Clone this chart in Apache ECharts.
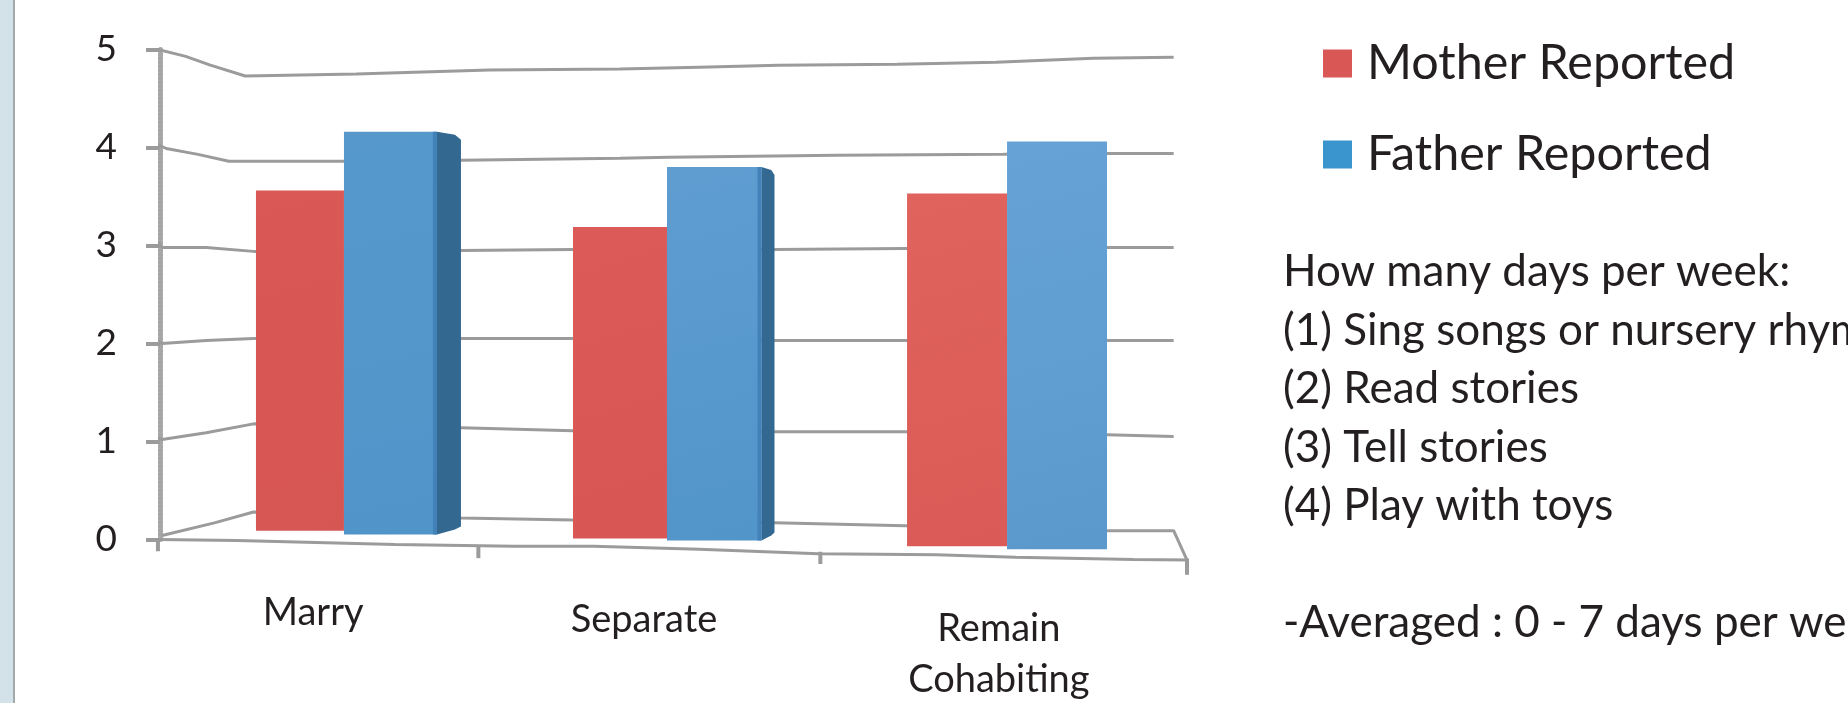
<!DOCTYPE html>
<html>
<head>
<meta charset="utf-8">
<title>Days per week</title>
<style>
  html, body { margin: 0; padding: 0; background: #fff; overflow: hidden; }
  #chart { width: 1848px; height: 703px; }
</style>
<script src="https://cdn.jsdelivr.net/npm/echarts@6/dist/echarts.min.js"></script>
</head>
<body>
<div id="chart"></div>
<script>
const categories = ['Marry', 'Separate', 'Remain\nCohabiting']
const yTicks = [0, 1, 2, 3, 4, 5]
const motherValues = [3.56, 3.19, 3.53]
const fatherValues = [4.16, 3.80, 4.06]
// the bars do not sit on a flat floor in the picture, this is where each one stops
const motherBase = [0.09, 0.01, -0.07]
const fatherBase = [0.05, -0.01, -0.10]

const seriesNames = ['Mother Reported', 'Father Reported']
const noteLines = [
  'How many days per week:',
  '(1) Sing songs or nursery rhymes',
  '(2) Read stories',
  '(3) Tell stories',
  '(4) Play with toys',
  '',
  '-Averaged : 0 - 7 days per week'
]

// warped gridlines: x is percent of the floor width, y is the value
const line5 = [[-0.2, 5.00], [2.5, 4.93], [4.9, 4.84], [8.3, 4.73], [19.1, 4.75], [32.1, 4.79], [44.8, 4.80], [52.5, 4.82], [60.2, 4.84], [71.8, 4.85], [81.4, 4.87], [90.9, 4.91], [98.7, 4.92]]
const line4 = [[-0.2, 4.03], [0.6, 3.99], [3.7, 3.93], [6.7, 3.86], [17.9, 3.86], [29.3, 3.87], [44.8, 3.89], [49.5, 3.90], [65.9, 3.92], [82.1, 3.93], [92.2, 3.94], [98.7, 3.94]]
const line3 = [[-0.2, 3.04], [0.2, 2.98], [4.5, 2.98], [9.1, 2.94], [29.3, 2.95], [40.2, 2.96], [59.8, 2.96], [72.5, 2.97], [92.2, 2.98], [98.7, 2.98]]
const line2 = [[-0.2, 2.03], [0.2, 2.00], [4.5, 2.03], [9.1, 2.05], [29.3, 2.05], [40.2, 2.05], [59.8, 2.03], [72.5, 2.03], [92.2, 2.03], [98.7, 2.03]]
const line1 = [[-0.2, 1.04], [0.2, 1.02], [4.5, 1.09], [9.1, 1.18], [29.3, 1.14], [40.2, 1.11], [59.8, 1.10], [72.5, 1.10], [92.2, 1.07], [98.7, 1.05]]
const floorBack = [[0.2, 0.04], [5.3, 0.17], [9.1, 0.28], [29.3, 0.22], [40.2, 0.20], [59.8, 0.17], [72.5, 0.14], [92.2, 0.09], [98.7, 0.09], [100, -0.21]]
const floorFront = [[-1.4, 0], [-0.2, 0], [7.5, -0.01], [22.9, -0.05], [34.5, -0.07], [42.2, -0.07], [52.5, -0.10], [64.1, -0.146], [75.6, -0.155], [83.3, -0.18], [94.8, -0.205], [100.5, -0.21]]
const floorTicks = [[-0.2, -0.01, -0.12], [31, -0.07, -0.19], [64.3, -0.125, -0.25], [100, -0.21, -0.36]]

// layout of the bars, px around each category centre
const barShift = [12.8, -6.5, -8.8]
const motherWidth = [88, 94, 100]
const fatherWidth = [93, 94.5, 100]
const sideDepth = [24, 13, 0]

const gridColor = '#9b9b9b'
const textColor = '#231f20'
const fontName = 'Lato, "Open Sans", sans-serif'

function fade(top, bottom) {
  return new echarts.graphic.LinearGradient(0, 0, 1, 1, [
    { offset: 0, color: top },
    { offset: 1, color: bottom }
  ])
}
const motherFill = [fade('#da5856', '#d65654'), fade('#dc5b58', '#d85755'), fade('#e1635e', '#d95a56')]
const fatherFill = [fade('#5698cc', '#5095c9'), fade('#5f9dd1', '#5295c9'), fade('#66a2d5', '#5b99cd')]

function renderMother(params, api) {
  const i = params.dataIndex
  const top = api.coord([i, api.value(1)])
  const base = api.coord([i, motherBase[i]])
  const right = top[0] + barShift[i]
  return {
    type: 'rect',
    shape: { x: right - motherWidth[i], y: top[1], width: motherWidth[i], height: base[1] - top[1] },
    style: { fill: motherFill[i] }
  }
}

function renderFather(params, api) {
  const i = params.dataIndex
  const top = api.coord([i, api.value(1)])
  const base = api.coord([i, fatherBase[i]])
  const left = top[0] + barShift[i]
  const right = left + fatherWidth[i]
  const d = sideDepth[i]
  const children = []
  if (d > 0) {
    children.push({
      type: 'polygon',
      shape: {
        points: [
          [right, top[1]],
          [right + d * 0.75, top[1] + 3],
          [right + d, top[1] + 8],
          [right + d, base[1] - 8],
          [right + d * 0.75, base[1] - 5],
          [right, base[1]]
        ]
      },
      style: { fill: '#336891' }
    })
    children.push({
      type: 'rect',
      shape: { x: right - 4, y: top[1], width: 4, height: base[1] - top[1] },
      style: { fill: '#4282b9' }
    })
  }
  children.unshift({
    type: 'rect',
    shape: { x: left, y: top[1], width: fatherWidth[i], height: base[1] - top[1] },
    style: { fill: fatherFill[i] }
  })
  return { type: 'group', children: children }
}

function renderFloorTick(params, api) {
  const a = api.coord([api.value(0), api.value(1)])
  const b = api.coord([api.value(0), api.value(2)])
  return {
    type: 'line',
    shape: { x1: a[0], y1: a[1], x2: b[0], y2: b[1] },
    style: { stroke: gridColor, lineWidth: 4 }
  }
}

function wallLine(data) {
  return {
    type: 'line',
    xAxisIndex: 1,
    data: data,
    showSymbol: false,
    silent: true,
    clip: false,
    z: 1,
    lineStyle: { color: gridColor, width: 3 }
  }
}

const chart = echarts.init(document.getElementById('chart'))
chart.setOption({
  animation: false,
  backgroundColor: '#fff',
  grid: { left: 160, right: 661, top: 49.5, bottom: 163.5, outerBoundsMode: 'none' },
  legend: {
    orient: 'vertical',
    left: 1318,
    top: 34,
    itemWidth: 29,
    itemHeight: 28,
    itemGap: 42,
    icon: 'rect',
    data: [
      { name: seriesNames[0], itemStyle: { color: '#d95855' } },
      { name: seriesNames[1], itemStyle: { color: '#3a95cf' } }
    ],
    textStyle: { color: textColor, fontFamily: fontName, fontSize: 48.5, lineHeight: 28, padding: [0, 0, 0, 10] }
  },
  xAxis: [
    {
      type: 'category',
      data: [
        { value: categories[0], textStyle: { padding: [48, 36, 0, 0] } },
        { value: categories[1], textStyle: { padding: [55, 59, 0, 0] } },
        { value: categories[2], textStyle: { padding: [64, 34, 0, 0] } }
      ],
      axisLine: { show: false },
      axisTick: { show: false },
      axisLabel: { color: textColor, fontFamily: fontName, fontSize: 38, margin: 0, lineHeight: 51, interval: 0 }
    },
    { type: 'value', min: 0, max: 100, show: false }
  ],
  yAxis: {
    type: 'value',
    min: 0,
    max: 5,
    interval: 1,
    axisLine: { show: true, lineStyle: { color: '#a6a6a6', width: 5, type: [2, 2] } },
    axisTick: { show: true, length: 14, lineStyle: { color: gridColor, width: 4 } },
    splitLine: { show: false },
    axisLabel: {
      color: textColor,
      fontFamily: fontName,
      fontSize: 37,
      margin: 43,
      padding: [9, 0, 0, 0],
      formatter: function(v) { return yTicks.indexOf(v) >= 0 ? String(v) : '' }
    }
  },
  series: [
    wallLine(line5),
    wallLine(line4),
    wallLine(line3),
    wallLine(line2),
    wallLine(line1),
    wallLine(floorBack),
    wallLine(floorFront),
    {
      type: 'custom',
      name: 'floor ticks',
      xAxisIndex: 1,
      clip: false,
      silent: true,
      encode: { x: 0, y: 1 },
      renderItem: renderFloorTick,
      data: floorTicks,
      z: 1
    },
    {
      type: 'custom',
      name: seriesNames[0],
      clip: false,
      renderItem: renderMother,
      encode: { x: 0, y: 1 },
      data: motherValues.map((v, i) => [i, v]),
      z: 3
    },
    {
      type: 'custom',
      name: seriesNames[1],
      clip: false,
      renderItem: renderFather,
      encode: { x: 0, y: 1 },
      data: fatherValues.map((v, i) => [i, v]),
      z: 4
    }
  ],
  graphic: [
    { type: 'rect', left: 0, top: 0, shape: { width: 13, height: 703 }, style: { fill: '#d3e1e8' }, silent: true },
    { type: 'rect', left: 13, top: 0, shape: { width: 2, height: 703 }, style: { fill: '#a3a8ab' }, silent: true },
    {
      type: 'text',
      left: 1283,
      top: 243,
      silent: true,
      style: {
        text: noteLines.join('\n'),
        fill: textColor,
        font: '44px ' + fontName,
        lineHeight: 58.5
      }
    }
  ]
})
</script>
</body>
</html>
